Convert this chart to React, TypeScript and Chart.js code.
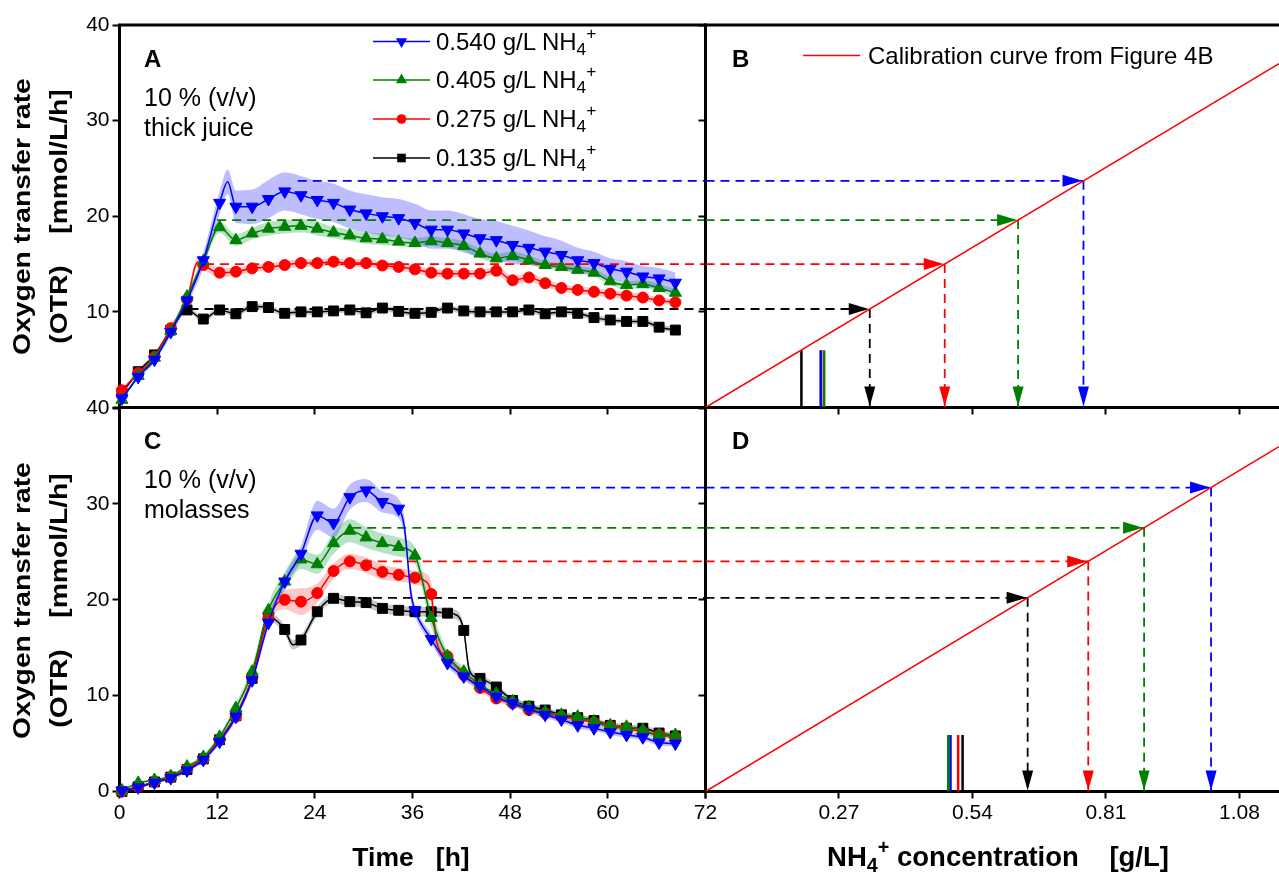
import React, { useEffect, useRef } from 'react';
import { Chart, registerables } from 'chart.js';

Chart.register(...registerables);

const FONT = "'Liberation Sans', Arial, Helvetica, sans-serif";

// ---------------- data ----------------
const TIME = [0.3, 2.3, 4.3, 6.3, 8.3, 10.3, 12.3, 14.3, 16.3, 18.3, 20.3, 22.3, 24.3, 26.3, 28.3, 30.3, 32.3, 34.3, 36.3, 38.3, 40.3, 42.3, 44.3, 46.3, 48.3, 50.3, 52.3, 54.3, 56.3, 58.3, 60.3, 62.3, 64.3, 66.3, 68.3];
const TIME_TICKS = [0, 12, 24, 36, 48, 60, 72];
const OTR_TICKS = [0, 10, 20, 30, 40];
const CONC_TICKS = [0, 0.27, 0.54, 0.81, 1.08];
const TIME_MAX = 72;
const OTR_MAX = 40;
const CONC_MAX = 1.16;
const CAL_SLOPE = 31.0; // calibration curve OTR per g/L

const SERIES_LABELS = ['0.540', '0.405', '0.275', '0.135'];

// Panel A (10 % thick juice)
const A_BLUE = [0.96, 3.2, 5.0, 7.9, 11.2, 15.4, 21.4, 21.0, 21.0, 21.8, 22.6, 22.2, 21.7, 21.4, 20.7, 20.3, 20.0, 19.8, 19.3, 18.6, 18.6, 18.2, 17.7, 17.5, 17.0, 16.7, 16.3, 15.95, 15.4, 15.1, 14.5, 14.2, 13.7, 13.5, 13.05];
const A_BLUE_SD = [0.2, 0.2, 0.3, 0.4, 0.5, 0.8, 1.2, 1.7, 1.8, 2.0, 2.0, 2.0, 2.0, 2.0, 2.0, 2.0, 2.0, 2.0, 2.0, 2.0, 2.0, 2.0, 2.0, 2.0, 2.0, 1.8, 1.6, 1.5, 1.3, 1.2, 1.1, 1.1, 1.1, 1.1, 1.1];
const A_BLUE_EXTRA = [[13.3, 23.6, 1.3]];
const A_GREEN = [0.8, 3.3, 5.2, 8.0, 11.6, 15.3, 18.85, 17.5, 18.2, 18.7, 18.9, 19.0, 18.7, 18.3, 18.0, 17.7, 17.6, 17.35, 17.2, 17.4, 17.2, 16.9, 16.1, 15.6, 15.85, 15.4, 14.9, 14.7, 14.4, 14.1, 13.2, 12.8, 12.9, 12.5, 12.0];
const A_GREEN_SD = [0.2, 0.2, 0.3, 0.3, 0.4, 0.5, 0.6, 0.6, 0.6, 0.7, 0.7, 0.7, 0.7, 0.6, 0.6, 0.6, 0.6, 0.5, 0.5, 0.5, 0.5, 0.5, 0.5, 0.5, 0.5, 0.5, 0.4, 0.4, 0.4, 0.4, 0.4, 0.4, 0.4, 0.4, 0.4];
const A_GREEN_EXTRA: number[][] = [];
const A_RED = [1.8, 3.6, 5.3, 8.3, 11.3, 14.9, 14.1, 14.2, 14.55, 14.7, 14.9, 15.1, 15.1, 15.25, 15.1, 15.1, 14.85, 14.7, 14.45, 14.1, 14.0, 14.0, 14.0, 14.3, 13.3, 13.6, 13.0, 12.5, 12.3, 12.1, 11.9, 11.7, 11.5, 11.2, 11.0];
const A_RED_SD = [0.2, 0.2, 0.3, 0.3, 0.4, 0.5, 0.5, 0.4, 0.4, 0.4, 0.4, 0.4, 0.4, 0.4, 0.4, 0.4, 0.4, 0.4, 0.4, 0.4, 0.4, 0.4, 0.4, 0.4, 0.5, 0.5, 0.4, 0.4, 0.4, 0.4, 0.4, 0.4, 0.4, 0.3, 0.3];
const A_RED_EXTRA = [[9.6, 15.2, 0.5]];
const A_BLACK = [1.5, 3.75, 5.5, 8.1, 10.2, 9.25, 10.2, 9.8, 10.55, 10.45, 9.85, 10.0, 10.0, 10.1, 10.2, 9.9, 10.4, 10.05, 9.85, 9.95, 10.4, 10.1, 10.0, 10.0, 10.0, 10.2, 9.8, 10.0, 9.85, 9.4, 9.15, 9.0, 9.0, 8.4, 8.1];
const A_BLACK_SD = [0.2, 0.2, 0.2, 0.2, 0.3, 0.3, 0.3, 0.3, 0.3, 0.3, 0.3, 0.3, 0.3, 0.3, 0.3, 0.3, 0.3, 0.3, 0.3, 0.3, 0.3, 0.3, 0.3, 0.3, 0.3, 0.3, 0.3, 0.3, 0.3, 0.3, 0.3, 0.3, 0.3, 0.3, 0.3];
const A_BLACK_EXTRA: number[][] = [];

// Panel C (10 % molasses)
const C_BLUE = [0.1, 0.44, 0.92, 1.4, 2.2, 3.3, 5.2, 7.8, 11.6, 17.6, 21.9, 24.8, 28.8, 28.0, 30.7, 31.4, 30.2, 29.5, 18.9, 15.9, 13.4, 12.0, 11.0, 9.9, 9.2, 8.6, 8.0, 7.5, 6.9, 6.6, 6.2, 5.9, 5.65, 5.1, 5.0];
const C_BLUE_SD = [0.1, 0.1, 0.1, 0.2, 0.2, 0.2, 0.3, 0.3, 0.4, 0.5, 0.6, 0.8, 1.5, 1.5, 1.3, 1.2, 1.1, 1.0, 0.6, 0.5, 0.4, 0.4, 0.3, 0.3, 0.3, 0.3, 0.3, 0.3, 0.3, 0.3, 0.3, 0.3, 0.3, 0.3, 0.3];
const C_BLUE_EXTRA = [[35.0, 27.6, 1.0], [35.8, 20.7, 0.8]];
const C_GREEN = [0.1, 0.9, 1.2, 1.6, 2.6, 3.6, 5.7, 8.7, 12.5, 18.9, 21.9, 24.2, 23.7, 25.9, 27.2, 26.5, 25.9, 25.5, 24.6, 18.1, 14.1, 12.5, 11.1, 10.2, 9.4, 8.8, 8.3, 8.0, 7.8, 7.3, 6.9, 6.75, 6.4, 5.9, 5.9];
const C_GREEN_SD = [0.1, 0.1, 0.1, 0.2, 0.2, 0.3, 0.3, 0.5, 0.6, 0.7, 1.0, 1.0, 1.0, 1.1, 1.2, 1.1, 1.0, 1.0, 0.9, 1.0, 0.6, 0.5, 0.5, 0.4, 0.4, 0.4, 0.3, 0.3, 0.3, 0.3, 0.3, 0.3, 0.3, 0.3, 0.3];
const C_GREEN_EXTRA: number[][] = [];
const C_RED = [0.0, 0.5, 1.0, 1.5, 2.4, 3.4, 5.4, 7.8, 11.9, 18.1, 20.0, 19.8, 20.7, 23.0, 24.0, 23.6, 22.9, 22.6, 22.3, 20.6, 14.1, 12.15, 10.8, 9.7, 9.2, 8.5, 8.15, 7.8, 7.5, 7.2, 6.8, 6.6, 6.2, 5.9, 5.7];
const C_RED_SD = [0.1, 0.1, 0.1, 0.2, 0.2, 0.2, 0.3, 0.4, 0.5, 0.6, 1.0, 1.4, 1.0, 0.8, 0.8, 0.8, 0.8, 0.7, 0.7, 1.2, 0.6, 0.4, 0.4, 0.3, 0.3, 0.3, 0.3, 0.3, 0.3, 0.3, 0.3, 0.3, 0.3, 0.3, 0.3];
const C_RED_EXTRA = [[37.5, 22.0, 0.8], [39.0, 15.5, 1.0]];
const C_BLACK = [0.0, 0.5, 1.0, 1.5, 2.3, 3.4, 5.4, 7.9, 11.8, 18.2, 16.9, 15.8, 18.75, 20.15, 19.8, 19.7, 19.1, 18.9, 18.75, 18.75, 18.6, 16.8, 11.8, 10.9, 9.5, 8.9, 8.5, 8.0, 7.7, 7.4, 6.9, 6.6, 6.6, 6.1, 5.8];
const C_BLACK_SD = [0.1, 0.1, 0.1, 0.1, 0.2, 0.2, 0.2, 0.3, 0.3, 0.4, 0.5, 0.5, 0.5, 0.5, 0.5, 0.5, 0.5, 0.5, 0.5, 0.5, 0.5, 0.5, 0.4, 0.3, 0.3, 0.3, 0.3, 0.3, 0.3, 0.3, 0.3, 0.3, 0.3, 0.3, 0.3];
const C_BLACK_EXTRA = [[21.3, 15.3, 0.5], [41.6, 18.3, 0.5], [43.0, 12.6, 0.5]];

// Read-off levels (order: 0.135 black, 0.275 red, 0.405 green, 0.540 blue)
const A_LEVELS = [10.3, 15.0, 19.6, 23.7];
const A_LEVEL_START = [8.6, 10.5, 12.0, 21.9];
const C_LEVELS = [20.2, 24.0, 27.5, 31.7];
const C_LEVEL_START = [29.3, 29.9, 28.6, 30.3];

// Short solid bars at the bottom of B and D (order: black, red, blue, green)
const B_BAR_X = [0.194, 0.234, 0.233, 0.240];
const B_BAR_TOP = 6.0;
const D_BAR_X = [0.520, 0.511, 0.4955, 0.491];
const D_BAR_TOP = 5.9;

// ---------------- styles ----------------
const STYLES = [
  { color: '#0000ff', band: 'rgba(40,40,255,0.30)', pointStyle: 'triangle', rot: 180, r: 7 },
  { color: '#008000', band: 'rgba(0,150,50,0.28)', pointStyle: 'triangle', rot: 0, r: 7 },
  { color: '#ff0000', band: 'rgba(255,0,0,0.22)', pointStyle: 'circle', rot: 0, r: 5.5 },
  { color: '#000000', band: 'rgba(0,0,0,0.22)', pointStyle: 'rect', rot: 0, r: 7 },
];
const LEVEL_COLORS = ['#000000', '#ff0000', '#008000', '#0000ff'];
const BAR_COLORS = ['#000000', '#ff0000', '#0000ff', '#008000'];

const SERIES_A = [
  [A_BLUE, A_BLUE_SD, A_BLUE_EXTRA],
  [A_GREEN, A_GREEN_SD, A_GREEN_EXTRA],
  [A_RED, A_RED_SD, A_RED_EXTRA],
  [A_BLACK, A_BLACK_SD, A_BLACK_EXTRA],
];
const SERIES_C = [
  [C_BLUE, C_BLUE_SD, C_BLUE_EXTRA],
  [C_GREEN, C_GREEN_SD, C_GREEN_EXTRA],
  [C_RED, C_RED_SD, C_RED_EXTRA],
  [C_BLACK, C_BLACK_SD, C_BLACK_EXTRA],
];

// ---------------- layout ----------------
const LEFT_W = 720;
const RIGHT_X = 690;
const RIGHT_W = 589;
const Y_AXIS_W_LEFT = 119.5;
const Y_AXIS_W_RIGHT = 15.5;
const TOP_CANVAS = { top: 0, height: 430, pad: 25, xh: 22.5 };
const BOT_CANVAS = { top: 380, height: 496, pad: 28, xh: 84.5 };

function buildPoints(vals: number[], sd: number[], extra: number[][]) {
  const pts = TIME.map((t, i) => ({ x: t, y: vals[i], sd: sd[i], m: true }));
  extra.forEach((e) => pts.push({ x: e[0], y: e[1], sd: e[2], m: false }));
  pts.sort((a, b) => a.x - b.x);
  return pts;
}

function seriesDatasets(series: any[], idx: number) {
  const st = STYLES[idx];
  const pts = buildPoints(series[0], series[1], series[2]);
  return [
    {
      data: pts.map((p) => ({ x: p.x, y: p.y, m: p.m })),
      borderColor: st.color,
      backgroundColor: st.color,
      borderWidth: 1.5,
      pointStyle: st.pointStyle,
      pointRotation: st.rot,
      pointRadius: (c: any) => (c.raw && c.raw.m ? st.r : 0),
      pointBackgroundColor: st.color,
      pointBorderColor: st.color,
      pointBorderWidth: 1,
      cubicInterpolationMode: 'monotone',
      fill: false,
      clip: false,
      order: idx,
    },
    {
      data: pts.map((p) => ({ x: p.x, y: p.y + p.sd })),
      borderColor: 'transparent',
      backgroundColor: 'transparent',
      borderWidth: 0,
      pointRadius: 0,
      cubicInterpolationMode: 'monotone',
      fill: false,
      order: 20 + idx,
    },
    {
      data: pts.map((p) => ({ x: p.x, y: p.y - p.sd })),
      borderColor: 'transparent',
      backgroundColor: st.band,
      borderWidth: 0,
      pointRadius: 0,
      cubicInterpolationMode: 'monotone',
      fill: '-1',
      order: 20 + idx,
    },
  ];
}

function dashed(data: any[], color: string, order: number) {
  return {
    data,
    borderColor: color,
    backgroundColor: color,
    borderWidth: 1.8,
    borderDash: [9, 6],
    pointRadius: 0,
    fill: false,
    order,
  };
}

function axis(values: number[], min: number, max: number, cb: (v: number) => string, fit: (s: any) => void, pad: number) {
  return {
    type: 'linear',
    min,
    max,
    afterBuildTicks: (s: any) => {
      s.ticks = values.map((v) => ({ value: v }));
    },
    afterFit: fit,
    grid: { display: true, drawOnChartArea: false, drawTicks: true, tickLength: 7, tickWidth: 2, tickColor: '#000' },
    border: { display: true, color: '#000', width: 3 },
    ticks: {
      autoSkip: false,
      maxRotation: 0,
      minRotation: 0,
      padding: pad,
      color: '#000',
      font: { size: 21, family: FONT },
      callback: (v: any) => cb(Number(v)),
    },
  };
}

const topFramePlugin = {
  id: 'topFrame',
  afterDraw(chart: any) {
    const { ctx, chartArea: a } = chart;
    ctx.save();
    ctx.strokeStyle = '#000';
    ctx.lineWidth = 3;
    ctx.beginPath();
    ctx.moveTo(a.left - 1.5, a.top);
    ctx.lineTo(a.right + 1.5, a.top);
    ctx.stroke();
    ctx.restore();
  },
};

function arrowPlugin(levels: number[]) {
  return {
    id: 'arrows',
    afterDatasetsDraw(chart: any) {
      const { ctx } = chart;
      const xs = chart.scales.x;
      const ys = chart.scales.y;
      const y0 = ys.getPixelForValue(0);
      ctx.save();
      levels.forEach((L, i) => {
        const xi = xs.getPixelForValue(L / CAL_SLOPE);
        const yi = ys.getPixelForValue(L);
        ctx.fillStyle = LEVEL_COLORS[i];
        ctx.beginPath();
        ctx.moveTo(xi - 1, yi);
        ctx.lineTo(xi - 21, yi - 6);
        ctx.lineTo(xi - 21, yi + 6);
        ctx.closePath();
        ctx.fill();
        ctx.beginPath();
        ctx.moveTo(xi, y0 - 1);
        ctx.lineTo(xi - 5.5, y0 - 21);
        ctx.lineTo(xi + 5.5, y0 - 21);
        ctx.closePath();
        ctx.fill();
      });
      ctx.restore();
    },
  };
}

function timeConfig(top: boolean): any {
  const L = top ? TOP_CANVAS : BOT_CANVAS;
  const series = top ? SERIES_A : SERIES_C;
  const levels = top ? A_LEVELS : C_LEVELS;
  const starts = top ? A_LEVEL_START : C_LEVEL_START;
  const datasets: any[] = [];
  series.forEach((s, i) => datasets.push(...seriesDatasets(s, i)));
  levels.forEach((lv, i) =>
    datasets.push(dashed([{ x: starts[i], y: lv }, { x: TIME_MAX, y: lv }], LEVEL_COLORS[i], 10 + i))
  );
  return {
    type: 'line',
    data: { datasets },
    plugins: top ? [topFramePlugin] : [],
    options: {
      responsive: false,
      animation: false,
      events: [],
      devicePixelRatio: 1,
      layout: { autoPadding: false, padding: { top: L.pad, right: LEFT_W - 705.5, left: 0, bottom: 0 } },
      plugins: { legend: { display: false }, tooltip: { enabled: false } },
      scales: {
        x: axis(TIME_TICKS, 0, TIME_MAX, (v) => (top ? '' : String(v)), (s: any) => { s.height = L.xh; }, 2),
        y: axis(OTR_TICKS, 0, OTR_MAX, (v) => (top && v === 0 ? '' : String(v)), (s: any) => { s.width = Y_AXIS_W_LEFT; }, 3),
      },
    },
  };
}

function concConfig(top: boolean): any {
  const L = top ? TOP_CANVAS : BOT_CANVAS;
  const levels = top ? A_LEVELS : C_LEVELS;
  const bars = top ? B_BAR_X : D_BAR_X;
  const barTop = top ? B_BAR_TOP : D_BAR_TOP;
  const datasets: any[] = [];
  datasets.push({
    data: [{ x: 0, y: 0 }, { x: CONC_MAX, y: CAL_SLOPE * CONC_MAX }],
    borderColor: '#ff0000',
    borderWidth: 1.5,
    pointRadius: 0,
    fill: false,
    order: 0,
  });
  levels.forEach((lv, i) => {
    const xi = lv / CAL_SLOPE;
    datasets.push(dashed([{ x: 0, y: lv }, { x: xi, y: lv }], LEVEL_COLORS[i], 5 + i));
    datasets.push(dashed([{ x: xi, y: lv }, { x: xi, y: 0 }], LEVEL_COLORS[i], 5 + i));
  });
  bars.forEach((bx, i) =>
    datasets.push({
      data: [{ x: bx, y: 0 }, { x: bx, y: barTop }],
      borderColor: BAR_COLORS[i],
      borderWidth: 2.5,
      pointRadius: 0,
      fill: false,
      order: 20 - i,
    })
  );
  return {
    type: 'line',
    data: { datasets },
    plugins: top ? [topFramePlugin, arrowPlugin(levels)] : [arrowPlugin(levels)],
    options: {
      responsive: false,
      animation: false,
      events: [],
      devicePixelRatio: 1,
      layout: { autoPadding: false, padding: { top: L.pad, right: 0, left: 0, bottom: 0 } },
      plugins: { legend: { display: false }, tooltip: { enabled: false } },
      scales: {
        x: axis(CONC_TICKS, 0, CONC_MAX, (v) => (top || v === 0 ? '' : v.toFixed(2)), (s: any) => { s.height = L.xh; }, 2),
        y: axis(OTR_TICKS, 0, OTR_MAX, () => '', (s: any) => { s.width = Y_AXIS_W_RIGHT; }, 3),
      },
    },
  };
}

// ---------------- text helpers ----------------
function Txt(props: { x: number; base: number; size: number; bold?: boolean; align?: 'left' | 'center'; children: any }) {
  const { x, base, size, bold, align, children } = props;
  const top = base - 0.8465 * size;
  const w = 700;
  const left = align === 'center' ? x - w / 2 : x;
  return (
    <div
      style={{
        position: 'absolute',
        left,
        top,
        width: w,
        height: size,
        lineHeight: `${size}px`,
        fontSize: size,
        fontWeight: bold ? 'bold' : 'normal',
        textAlign: align === 'center' ? 'center' : 'left',
        whiteSpace: 'pre',
        color: '#000',
      }}
    >
      {children}
    </div>
  );
}

function NH4(props: { size: number }) {
  const s = props.size;
  return (
    <>
      NH
      <span style={{ fontSize: '0.72em', position: 'relative', top: Math.round(0.22 * s) }}>4</span>
      <span style={{ fontSize: '0.72em', position: 'relative', top: -Math.round(0.45 * s) }}>+</span>
    </>
  );
}

function YTitle(props: { cy: number }) {
  const size = 23;
  const lines = [
    { cx: 21.5, text: 'Oxygen transfer rate' },
    { cx: 59.3, text: '(OTR)    [mmol/L/h]' },
  ];
  return (
    <>
      {lines.map((l, i) => (
        <div
          key={i}
          style={{
            position: 'absolute',
            left: l.cx - 200,
            top: props.cy - size / 2,
            width: 400,
            height: size,
            lineHeight: `${size}px`,
            fontSize: size,
            fontWeight: 'bold',
            textAlign: 'center',
            whiteSpace: 'pre',
            transform: 'rotate(-90deg) scaleX(1.23)',
          }}
        >
          {l.text}
        </div>
      ))}
    </>
  );
}

const LEGEND_ROWS = [41.5, 80, 119, 158];

function LegendSymbols() {
  const mx = 401.5;
  return (
    <svg width={1279} height={876} style={{ position: 'absolute', left: 0, top: 0, pointerEvents: 'none' }}>
      {LEGEND_ROWS.map((cy, i) => {
        const c = STYLES[i].color;
        let marker: any = null;
        if (i === 0) marker = <polygon points={`${mx - 5.6},${cy - 3.3} ${mx + 5.6},${cy - 3.3} ${mx},${cy + 6.5}`} fill={c} />;
        if (i === 1) marker = <polygon points={`${mx - 5.6},${cy + 3.3} ${mx + 5.6},${cy + 3.3} ${mx},${cy - 6.5}`} fill={c} />;
        if (i === 2) marker = <circle cx={mx} cy={cy} r={4.8} fill={c} />;
        if (i === 3) marker = <rect x={mx - 4.3} y={cy - 4.3} width={8.6} height={8.6} fill={c} />;
        return (
          <g key={i}>
            <line x1={373} x2={430} y1={cy} y2={cy} stroke={c} strokeWidth={1.5} />
            {marker}
          </g>
        );
      })}
      <line x1={803} x2={860} y1={55.5} y2={55.5} stroke="#ff0000" strokeWidth={1.5} />
    </svg>
  );
}

export default function App() {
  const refA = useRef<HTMLCanvasElement>(null);
  const refB = useRef<HTMLCanvasElement>(null);
  const refC = useRef<HTMLCanvasElement>(null);
  const refD = useRef<HTMLCanvasElement>(null);

  useEffect(() => {
    document.body.style.margin = '0';
    Chart.defaults.font.family = FONT;
    Chart.defaults.color = '#000';
    const charts = [
      new Chart(refA.current as HTMLCanvasElement, timeConfig(true)),
      new Chart(refB.current as HTMLCanvasElement, concConfig(true)),
      new Chart(refC.current as HTMLCanvasElement, timeConfig(false)),
      new Chart(refD.current as HTMLCanvasElement, concConfig(false)),
    ];
    return () => charts.forEach((c) => c.destroy());
  }, []);

  const cv = (left: number, top: number, w: number, h: number) => ({ position: 'absolute' as const, left, top, width: w, height: h });

  return (
    <div style={{ position: 'absolute', left: 0, top: 0, width: 1279, height: 876, background: '#fff', overflow: 'hidden', fontFamily: FONT, color: '#000' }}>
      <canvas ref={refA} width={LEFT_W} height={TOP_CANVAS.height} style={cv(0, TOP_CANVAS.top, LEFT_W, TOP_CANVAS.height)} />
      <canvas ref={refB} width={RIGHT_W} height={TOP_CANVAS.height} style={cv(RIGHT_X, TOP_CANVAS.top, RIGHT_W, TOP_CANVAS.height)} />
      <canvas ref={refC} width={LEFT_W} height={BOT_CANVAS.height} style={cv(0, BOT_CANVAS.top, LEFT_W, BOT_CANVAS.height)} />
      <canvas ref={refD} width={RIGHT_W} height={BOT_CANVAS.height} style={cv(RIGHT_X, BOT_CANVAS.top, RIGHT_W, BOT_CANVAS.height)} />

      <LegendSymbols />

      <YTitle cy={216} />
      <YTitle cy={600} />

      <Txt x={144} base={67} size={24} bold>A</Txt>
      <Txt x={732} base={67} size={24} bold>B</Txt>
      <Txt x={144} base={449} size={24} bold>C</Txt>
      <Txt x={732} base={449} size={24} bold>D</Txt>

      <Txt x={144} base={106} size={25}>10 % (v/v)</Txt>
      <Txt x={144} base={136} size={25}>thick juice</Txt>
      <Txt x={144} base={488} size={25}>10 % (v/v)</Txt>
      <Txt x={144} base={518} size={25}>molasses</Txt>

      {LEGEND_ROWS.map((cy, i) => (
        <Txt key={i} x={436} base={cy + 8.6} size={24}>
          {SERIES_LABELS[i]} g/L <NH4 size={24} />
        </Txt>
      ))}
      <Txt x={868} base={64} size={24}>Calibration curve from Figure 4B</Txt>

      <Txt x={411} base={866} size={26.5} bold align="center">{'Time   [h]'}</Txt>
      <Txt x={998} base={866} size={27.5} bold align="center">
        <NH4 size={27.5} />
        {' concentration    [g/L]'}
      </Txt>
    </div>
  );
}
